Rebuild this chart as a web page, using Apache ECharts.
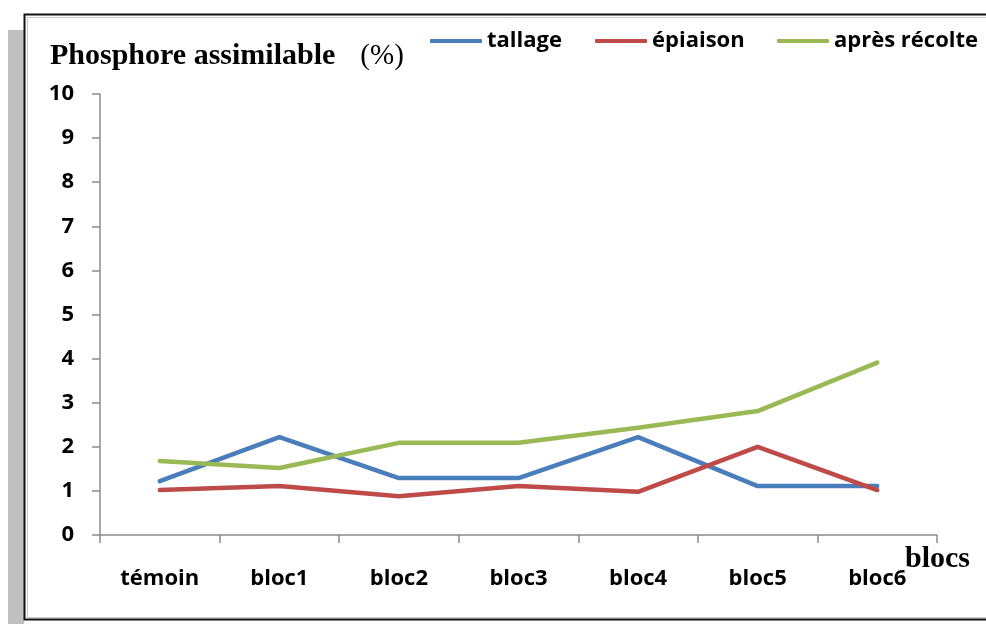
<!DOCTYPE html>
<html><head><meta charset="utf-8">
<script src="https://cdn.jsdelivr.net/npm/echarts@6/dist/echarts.min.js"></script>
<style>html,body{margin:0;padding:0;background:#fff}#c{width:986px;height:624px}</style>
</head><body><div id="c"></div>
<script>
var categories = ['témoin','bloc1','bloc2','bloc3','bloc4','bloc5','bloc6'];
var tallage = [1.22, 2.22, 1.29, 1.29, 2.22, 1.11, 1.11];
var epiaison = [1.02, 1.11, 0.88, 1.11, 0.98, 2.0, 1.02];
var apresRecolte = [1.68, 1.52, 2.09, 2.09, 2.43, 2.81, 3.91];
var seriesNames = ['tallage', 'épiaison', 'après récolte'];
var colors = ['#4A7EBB', '#BE4B48', '#98B954'];
var yTicks = {min: 0, max: 10, interval: 1};

var chart = echarts.init(document.getElementById('c'));
var sans = '"Open Sans", "Liberation Sans", sans-serif';
var serif = '"Liberation Serif", "DejaVu Serif", serif';
var legendPos = [430, 595, 777];
var seriesData = [tallage, epiaison, apresRecolte];

chart.setOption({
  animation: false,
  graphic: [
    {type: 'rect', shape: {x: 8, y: 30, width: 16, height: 594}, style: {fill: '#c0c0c0'}, z: 0},
    {type: 'rect', shape: {x: 24.5, y: 14.5, width: 970, height: 605}, style: {fill: 'none', stroke: '#111', lineWidth: 2}, z: 1},
    {type: 'rect', shape: {x: 27.5, y: 17.5, width: 970, height: 600}, style: {fill: 'none', stroke: '#c8c8c8', lineWidth: 1}, z: 1}
  ],
  title: [
    {text: '{b|Phosphore assimilable}{n|(%)}', left: 50, top: 41, padding: 0,
     textStyle: {rich: {
       b: {fontFamily: serif, fontWeight: 'bold', fontSize: 30, color: '#000'},
       n: {fontFamily: serif, fontWeight: 'normal', fontSize: 29, color: '#000', padding: [0, 0, 0, 25]}
     }}},
    {text: 'blocs', left: 905, top: 544, padding: 0, textStyle: {fontFamily: serif, fontWeight: 'bold', fontSize: 30, color: '#000'}}
  ],
  legend: seriesNames.map(function (n, i) {
    return {data: [n], left: legendPos[i], top: 30, padding: 0, icon: 'roundRect', itemWidth: 52, itemHeight: 4, itemGap: 6,
      textStyle: {fontFamily: sans, fontWeight: 'bold', fontSize: 22, color: '#000', padding: [0, 0, 0, 0]}};
  }),
  grid: {left: 100, top: 94, right: 49, bottom: 89, containLabel: false},
  xAxis: {
    type: 'category', data: categories, boundaryGap: true,
    axisLine: {lineStyle: {color: '#8c8c8c', width: 1.5}},
    axisTick: {show: true, interval: 0, length: 8, lineStyle: {color: '#8c8c8c', width: 1.5}},
    axisLabel: {interval: 0, margin: 33, fontFamily: sans, fontWeight: 'bold', fontSize: 22, color: '#000'}
  },
  yAxis: {
    type: 'value', min: yTicks.min, max: yTicks.max, interval: yTicks.interval,
    splitLine: {show: false},
    axisLine: {show: true, lineStyle: {color: '#8c8c8c', width: 1.5}},
    axisTick: {show: true, length: 8, lineStyle: {color: '#8c8c8c', width: 1.5}},
    axisLabel: {margin: 26, fontFamily: sans, fontWeight: 'bold', fontSize: 22, color: '#000'}
  },
  series: seriesNames.map(function (n, i) {
    return {name: n, type: 'line', data: seriesData[i], symbol: 'none', color: colors[i],
      lineStyle: {width: 4.5, color: colors[i], cap: 'round', join: 'round'}};
  })
});
</script></body></html>
